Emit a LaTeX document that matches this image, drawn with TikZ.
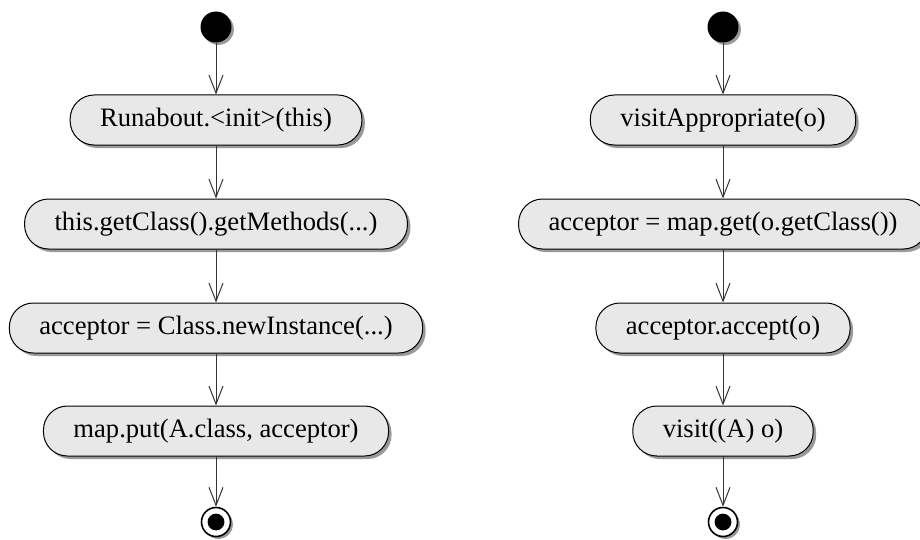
\documentclass[tikz,border=0pt]{standalone}
\usepackage{fontspec}
\setmainfont{LiberationSerif-Regular.ttf}
\usetikzlibrary{shadows,arrows.meta}

\begin{document}
\begin{tikzpicture}[x=0.5pt,y=-0.5pt,
    action/.style={draw=black, fill=black!9, rounded corners=12pt, minimum height=25pt,
      inner xsep=15pt, line width=0.5pt, font=\fontsize{13.3}{16}\selectfont,
      drop shadow={shadow xshift=1.5pt, shadow yshift=-1.5pt, fill=black!40, opacity=1}},
    initial/.style={circle, fill=black, minimum size=15.5pt, inner sep=0pt,
      drop shadow={shadow xshift=1.2pt, shadow yshift=-1.2pt, fill=black!40, opacity=1}},
    final/.style={circle, draw=black, fill=white, line width=0.8pt, minimum size=14.5pt, inner sep=0pt,
      drop shadow={shadow xshift=1.2pt, shadow yshift=-1.2pt, fill=black!40, opacity=1},
      path picture={\fill[black] (path picture bounding box.center) circle (4.2pt);}},
    flow/.style={draw=black!80, line width=0.5pt, -{Straight Barb[length=9pt,width=7pt]}}]
    \useasboundingbox (0,0) rectangle (920,540);
    % constructor
    \node [initial] (start1) at (216,27) {};
    \node [action] (init) at (216,120) {Runabout.<init>(this)};
    \node [action] (getmeth) at (216,224) {this.getClass().getMethods(...)};
    \node [action] (newinst) at (216,328) {acceptor = Class.newInstance(...)};
    \node [action] (mapput) at (216,431) {map.put(A.class, acceptor)};
    \node [final] (end1) at (216,522) {};
    \draw [flow] (start1) -- (init);
    \draw [flow] (init) -- (getmeth);
    \draw [flow] (getmeth) -- (newinst);
    \draw [flow] (newinst) -- (mapput);
    \draw [flow] (mapput) -- (end1);
    % dispatch
    \node [initial] (start2) at (723,27) {};
    \node [action] (visitapp) at (723,120) {visitAppropriate(o)};
    \node [action] (mapget) at (723,224) {acceptor = map.get(o.getClass())};
    \node [action] (accept) at (723,328) {acceptor.accept(o)};
    \node [action] (visitA) at (723,431) {visit((A) o)};
    \node [final] (end2) at (723,522) {};
    \draw [flow] (start2) -- (visitapp);
    \draw [flow] (visitapp) -- (mapget);
    \draw [flow] (mapget) -- (accept);
    \draw [flow] (accept) -- (visitA);
    \draw [flow] (visitA) -- (end2);
\end{tikzpicture}
\end{document}
